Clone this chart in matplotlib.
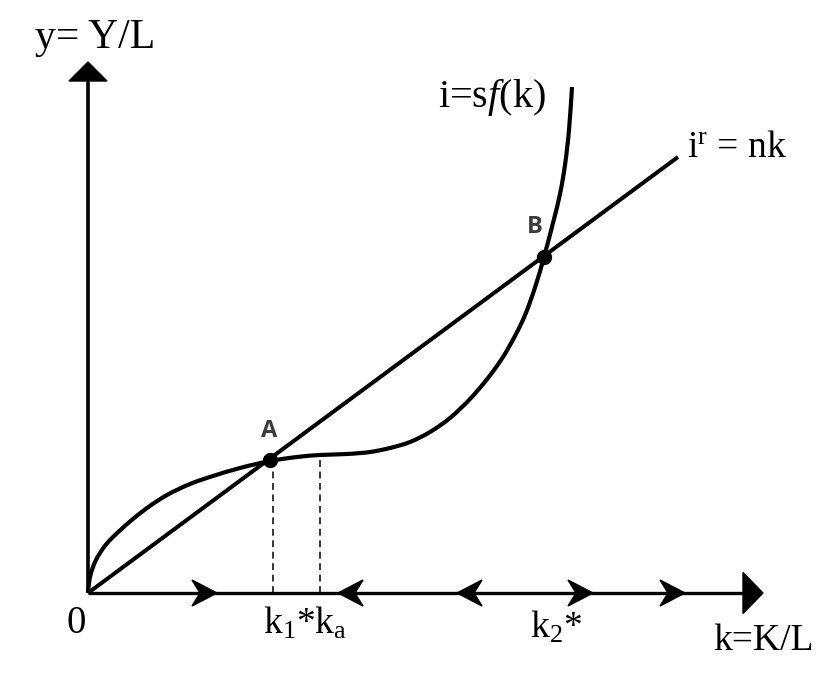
import matplotlib
matplotlib.use("Agg")
import matplotlib.pyplot as plt
from matplotlib.patches import Polygon, PathPatch
from matplotlib.path import Path

plt.rcParams['font.family'] = ['Liberation Serif', 'DejaVu Serif']
plt.rcParams['mathtext.fontset'] = 'custom'
plt.rcParams['mathtext.rm'] = 'Liberation Serif'
plt.rcParams['mathtext.it'] = 'Liberation Serif:italic'

# ---- data (k = capital per worker, i = investment) ----
curve_k = [0.00, 0.02, 0.06, 0.14, 0.24, 0.36, 0.50, 0.66, 0.84, 1.18, 1.58,
           2.04, 2.50, 3.04, 3.64, 4.18, 4.64, 5.18, 5.64, 6.04, 6.44, 6.84,
           7.24, 7.64, 8.00, 8.30, 8.55, 8.75, 8.95, 9.12, 9.30, 9.44, 9.54,
           9.62, 9.68]
curve_i = [0.00, 0.20, 0.40, 0.62, 0.80, 0.97, 1.12, 1.27, 1.43, 1.70, 1.96,
           2.18, 2.34, 2.50, 2.64, 2.72, 2.76, 2.78, 2.82, 2.90, 3.02, 3.22,
           3.50, 3.88, 4.30, 4.72, 5.16, 5.58, 6.14, 6.72, 7.40, 7.98, 8.56,
           9.26, 10.12]
n_slope = 0.739
line_k = [0.0, 11.8]
line_i = [n_slope * k for k in line_k]

eq_names = ['A', 'B']
eq_k = [3.64, 9.12]
eq_i = [2.66, 6.72]

dash_k = [3.70, 4.64]
dash_top = [2.66, 2.76]

flow_k = [2.58, 5.00, 7.38, 10.10, 11.94]
flow_dir = [1, -1, -1, 1, 1]

x_axis_end = 13.1
x_axis_tip = 13.5
y_axis_end = 10.24
y_axis_tip = 10.62


def smooth_path(xs, ys):
    """Catmull-Rom through the read points, drawn as cubic Bezier segments."""
    pts = list(zip(xs, ys))
    verts = [pts[0]]
    codes = [Path.MOVETO]
    for j in range(len(pts) - 1):
        p0 = pts[j - 1] if j > 0 else pts[j]
        p1 = pts[j]
        p2 = pts[j + 1]
        p3 = pts[j + 2] if j + 2 < len(pts) else pts[j + 1]
        c1 = (p1[0] + (p2[0] - p0[0]) / 6, p1[1] + (p2[1] - p0[1]) / 6)
        c2 = (p2[0] - (p3[0] - p1[0]) / 6, p2[1] - (p3[1] - p1[1]) / 6)
        verts += [c1, c2, p2]
        codes += [Path.CURVE4] * 3
    return Path(verts, codes)


# ---- figure ----
fig = plt.figure(figsize=(8.4, 6.81), dpi=100)
ax = fig.add_axes([0, 0, 1, 1])
ax.set_xlim(-1.76, 15.04)
ax.set_ylim(-1.76, 11.86)
ax.axis('off')

# axes
ax.plot([0, x_axis_end], [0, 0], color='black', lw=2.4, solid_capstyle='butt', zorder=2)
ax.plot([0, 0], [0, y_axis_end], color='black', lw=2.6, solid_capstyle='butt', zorder=2)
ax.add_patch(Polygon([[x_axis_tip, 0], [x_axis_end, 0.41], [x_axis_end, -0.41]],
                     closed=True, color='black', zorder=3))
ax.add_patch(Polygon([[0, y_axis_tip], [-0.38, y_axis_end], [0.38, y_axis_end]],
                     closed=True, color='black', zorder=3))

# flow arrows on the k axis
L, H, N = 0.50, 0.26, 0.34
for k, d in zip(flow_k, flow_dir):
    pts = [[k, 0], [k - d * L, H], [k - d * N, 0], [k - d * L, -H]]
    ax.add_patch(Polygon(pts, closed=True, color='black', zorder=3))

# curves
ax.add_patch(PathPatch(smooth_path(curve_k, curve_i), facecolor='none',
                       edgecolor='black', lw=3.0, capstyle='butt',
                       joinstyle='round', zorder=4))
ax.plot(line_k, line_i, color='black', lw=2.9, solid_capstyle='butt', zorder=4)

# dashed guide lines
for k, top in zip(dash_k, dash_top):
    ax.plot([k, k], [0, top], color='black', lw=1.1, ls=(0, (4.5, 3)), zorder=2)

# equilibrium points
ax.plot(eq_k, eq_i, 'o', color='black', ms=10, zorder=5)
label_off = [(-0.02, 0.46), (-0.18, 0.48)]
for name, k, i, (dx, dy) in zip(eq_names, eq_k, eq_i, label_off):
    ax.text(k + dx, i + dy, name, fontsize=17, fontweight='bold',
            family=['Open Sans', 'DejaVu Sans'], color='#3c3c3c',
            ha='center', va='baseline', zorder=6)

# labels
ax.text(-1.06, 10.9, 'y= Y/L', fontsize=30, ha='left', va='baseline')
ax.text(7.0, 9.72, 'i=s$f$(k)', fontsize=29, ha='left', va='baseline')
ax.text(11.98, 8.72, 'i$^\\mathrm{r}$ = nk', fontsize=27, ha='left', va='baseline')
ax.text(-0.24, -0.8, '0', fontsize=28, ha='center', va='baseline')
ax.text(3.5, -0.82, 'k$_\\mathrm{1}$*k$_\\mathrm{a}$', fontsize=27, ha='left', va='baseline')
ax.text(8.84, -0.9, 'k$_\\mathrm{2}$*', fontsize=27, ha='left', va='baseline')
ax.text(12.5, -1.14, 'k=K/L', fontsize=27, ha='left', va='baseline')

fig.savefig('out.png', dpi=100)
